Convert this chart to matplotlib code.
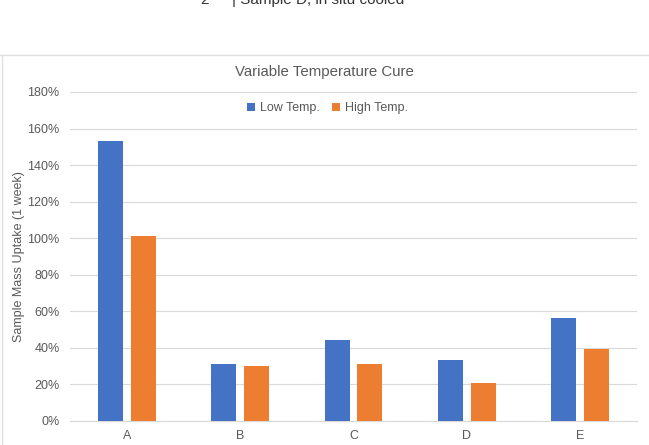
import numpy as np
import matplotlib
matplotlib.use("Agg")
import matplotlib.pyplot as plt
from matplotlib.lines import Line2D
from matplotlib.ticker import PercentFormatter

# data (fraction of mass gained)
samples = ["A", "B", "C", "D", "E"]
low_temp = [1.53, 0.31, 0.44, 0.33, 0.565]
high_temp = [1.01, 0.30, 0.31, 0.205, 0.39]
series_names = ["Low Temp.", "High Temp."]

plt.rcParams['font.family'] = ['Liberation Sans', 'DejaVu Sans']
txt_col = '#595959'

fig = plt.figure(figsize=(6.49, 4.45), dpi=100)
ax = fig.add_axes([70 / 649, 1 - 420.7 / 445, 567 / 649, (420.7 - 92) / 445])

x = np.arange(len(samples))
w = 0.22
ax.bar(x - 0.145, low_temp, w, color='#4472C4', label=series_names[0], zorder=3)
ax.bar(x + 0.145, high_temp, w, color='#ED7D31', label=series_names[1], zorder=3)

ax.set_xlim(-0.5, len(samples) - 0.5)
ax.set_ylim(0, 1.8)
ax.set_yticks(np.arange(0, 1.81, 0.2))
ax.yaxis.set_major_formatter(PercentFormatter(1.0, decimals=0))
ax.set_xticks(x)
ax.set_xticklabels(samples)
ax.grid(axis='y', color='#D9D9D9', linewidth=0.8, zorder=0)
for s in ['top', 'right', 'left']:
    ax.spines[s].set_visible(False)
ax.spines['bottom'].set_color('#D9D9D9')
ax.tick_params(length=0, labelsize=9, colors=txt_col, pad=7)
ax.tick_params(axis='y', pad=7.5)

ax.set_ylabel("Sample Mass Uptake (1 week)", fontsize=9, color=txt_col, labelpad=2)
fig.text(0.5, 1 - 72 / 445, "Variable Temperature Cure", ha='center', va='center',
         fontsize=10.8, color=txt_col)

ax.legend(loc='center', bbox_to_anchor=(0.454, 1 - (108 - 92) / (420.7 - 92)), ncol=2,
          frameon=False, fontsize=9, labelcolor=txt_col, handlelength=0.6,
          handleheight=0.6, handletextpad=0.4, columnspacing=1.0)

# chart frame and the cut-off document line above it
fig.add_artist(Line2D([0, 1], [1 - 55 / 445] * 2, color='#E0E0E0', lw=1))
fig.add_artist(Line2D([1.5 / 649] * 2, [0, 1 - 55 / 445], color='#E0E0E0', lw=1))
fig.text(200 / 649, 1.0, "2", ha='left', va='center', fontsize=11, color='#333333')
fig.text(232 / 649, 1.0, "| Sample D, in situ cooled", ha='left', va='center',
         fontsize=11, color='#333333')

fig.savefig("out.png", dpi=100)
